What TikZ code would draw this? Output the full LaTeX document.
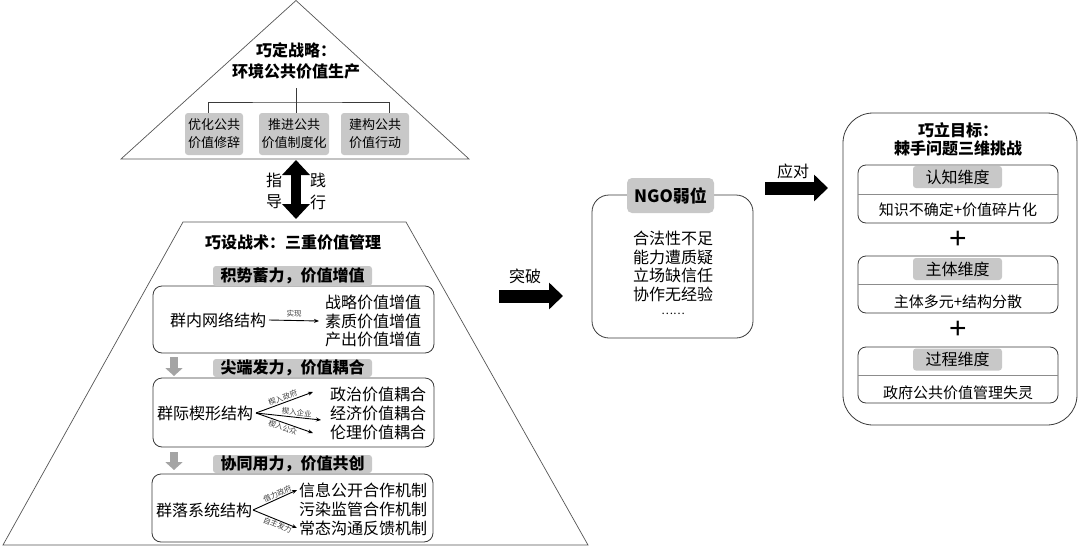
\documentclass[tikz,border=0pt]{standalone}
\usepackage{fontspec}
\setmainfont{Liberation Serif}
\newfontfamily\cjk{Noto Sans CJK SC}
\newfontfamily\plusfont{Liberation Sans}
\usetikzlibrary{arrows.meta,calc}
\definecolor{boxgray}{HTML}{C8C8C8}
\definecolor{arrowgray}{HTML}{A4A4A4}
\definecolor{linegray}{HTML}{3A3A3A}
\definecolor{shapeline}{HTML}{555555}
\tikzset{
  every node/.style={inner sep=0pt, outer sep=0pt},
  body/.style={font=\cjk\fontsize{16}{19}\selectfont, align=center},
  bodysm/.style={font=\cjk\fontsize{13}{18}\selectfont, align=center},
  ttl/.style={font=\cjk\bfseries\fontsize{16}{19}\selectfont, align=center},
  tiny/.style={font=\cjk\fontsize{7.5}{8}\selectfont, text=black!75},
  gbox/.style={fill=boxgray, rounded corners=3pt, align=center},
  wbox/.style={draw=linegray, rounded corners=9pt, line width=0.8pt},
  outline/.style={draw=shapeline, line width=0.7pt},
  blk/.style={line width=13pt, -{Triangle[length=14pt,width=26pt]}},
  garrow/.style={draw=arrowgray, line width=8pt, -{Triangle[length=8pt,width=17pt]}},
  thinarrow/.style={draw=black, line width=0.9pt, -{Stealth[length=5pt,width=4pt]}},
  plussign/.style={font=\plusfont\fontsize{30}{30}\selectfont},
}
\begin{document}
\begin{tikzpicture}[x=1pt,y=-1pt]
\useasboundingbox (0,0) rectangle (1080,549);
\fill[white] (0,0) rectangle (1080,549);

% ---------- top triangle ----------
\draw[outline] (121,159) -- (296,0.5) -- (469,159) -- cycle;
\node[ttl, font=\cjk\bfseries\fontsize{16}{21}\selectfont] (strat) at (296,60.5) {巧定战略：\\环境公共价值生产};
\node[gbox, bodysm, minimum width=58pt, minimum height=42pt] (t1) at (214,134) {优化公共\\价值修辞};
\node[gbox, bodysm, minimum width=70pt, minimum height=42pt] (t2) at (294,134) {推进公共\\价值制度化};
\node[gbox, bodysm, minimum width=68pt, minimum height=42pt] (t3) at (375,134) {建构公共\\价值行动};
\coordinate (hub) at (296,102);
\coordinate (hubtop) at (296,88);
\draw[linegray, line width=0.8pt] (hubtop) -- (hub);
\draw[linegray, line width=0.8pt] (t1.north -| 208,0) |- (hub) -| (t3.north -| 389,0);
\draw[linegray, line width=0.8pt] (hub) -- (t2.north -| hub);

% ---------- double arrow ----------
\coordinate (dA) at (296,160);
\coordinate (dB) at (296,219);
\draw[line width=10pt, {Triangle[length=15pt,width=27pt]}-{Triangle[length=15pt,width=27pt]}] (dA) -- (dB);
\node[body] (z1) at (274,180) {指};
\node[body] (z2) at (274,202) {导};
\node[body] (z3) at (318,180) {践};
\node[body] (z4) at (318,202) {行};

% ---------- trapezoid ----------
\draw[outline] (183,222) -- (406,222) -- (588,545) -- (3,545) -- cycle;
\node[ttl] (tac) at (293,242) {巧设战术：三重价值管理};

% section 1
\node[wbox, minimum width=281pt, minimum height=67pt] (B1) at (293.5,319.5) {};
\node[gbox, ttl, minimum width=159pt, minimum height=20pt] (H1) at (292.5,276) {积势蓄力，价值增值};
\node[body] (L1) at (218,320) {群内网络结构};
\node[body] (R1a) at (373,302) {战略价值增值};
\node[body] (R1b) at (373,321) {素质价值增值};
\node[body] (R1c) at (373,339.5) {产出价值增值};
\draw[thinarrow] ([xshift=3pt]L1.east) -- ([xshift=-6pt]R1b.west) node[midway, above=3pt, tiny] {实现};

% down arrow 1
\coordinate (g1a) at (174,357);
\coordinate (g1b) at (174,376);
\draw[garrow] (g1a) -- (g1b);

% section 2
\node[wbox, minimum width=281pt, minimum height=69pt] (B2) at (293.5,412.5) {};
\node[gbox, ttl, minimum width=159pt, minimum height=18pt] (H2) at (292.5,368) {尖端发力，价值耦合};
\node[body] (L2) at (205,413) {群际楔形结构};
\node[body] (R2a) at (378,394) {政治价值耦合};
\node[body] (R2b) at (378,413) {经济价值耦合};
\node[body] (R2c) at (378,432) {伦理价值耦合};
\coordinate (e2a) at (313,392);
\coordinate (e2b) at (321,420);
\coordinate (e2c) at (313,433);
\coordinate (s2) at ([xshift=3pt]L2.east);
\draw[thinarrow] (s2) -- (e2a) node[pos=0.5, sloped, above=1.5pt, tiny] {楔入政府};
\draw[thinarrow] (s2) -- (e2b) node[pos=0.62, sloped, above=1.2pt, tiny] {楔入企业};
\draw[thinarrow] (s2) -- (e2c) node[pos=0.5, sloped, below=1.5pt, tiny] {楔入公众};

% down arrow 2
\coordinate (g2a) at (174,452);
\coordinate (g2b) at (174,470);
\draw[garrow] (g2a) -- (g2b);

% section 3
\node[wbox, minimum width=281pt, minimum height=68pt] (B3) at (292.5,508) {};
\node[gbox, ttl, minimum width=159pt, minimum height=18pt] (H3) at (292.5,464) {协同用力，价值共创};
\node[body] (L3) at (204,510) {群落系统结构};
\node[body] (R3a) at (363,490) {信息公开合作机制};
\node[body] (R3b) at (363,509) {污染监管合作机制};
\node[body] (R3c) at (363,528) {常态沟通反馈机制};
\coordinate (s3) at ([xshift=1pt]L3.east);
\draw[thinarrow] (s3) -- ([xshift=-2pt]R3a.west) node[pos=0.6, sloped, above=1.2pt, tiny] {借力政府};
\draw[thinarrow] (s3) -- ([xshift=-2pt]R3c.west) node[pos=0.6, sloped, below=1.2pt, tiny] {自主发力};

% ---------- middle: breakthrough arrow ----------
\coordinate (bk1) at (499,296);
\coordinate (bk2) at (563,296);
\draw[blk] (bk1) -- (bk2);
\node[body] (bklab) at (525,276) {突破};

% NGO box
\node[draw=linegray, line width=0.8pt, rounded corners=17pt, minimum width=161pt, minimum height=143pt] (NGO) at (672.5,266.5) {};
\node[gbox, rounded corners=5pt, font=\cjk\bfseries\fontsize{17}{19}\selectfont, minimum width=87pt, minimum height=35pt] (NGOh) at (670.5,195.5) {NGO弱位};
\node[body, font=\cjk\fontsize{16}{18.5}\selectfont] (NGOt) at (673,266.5) {合法性不足\\能力遭质疑\\立场缺信任\\协作无经验};
\node[font=\cjk\fontsize{11}{12}\selectfont] (NGOd) at (673,314) {……};

% respond arrow
\coordinate (rs1) at (765,188);
\coordinate (rs2) at (828,188);
\draw[blk] (rs1) -- (rs2);
\node[body] (rslab) at (793,171) {应对};

% ---------- right box ----------
\node[draw=linegray, line width=0.8pt, rounded corners=30pt, minimum width=234pt, minimum height=312pt] (RB) at (960,269) {};
\node[ttl, font=\cjk\bfseries\fontsize{16}{18}\selectfont] (RBt) at (958,139) {巧立目标：\\棘手问题三维挑战};

\node[wbox, rounded corners=8pt, minimum width=200pt, minimum height=58pt] (S1) at (958,194) {};
\draw[black!45, line width=0.6pt] (S1.west) -- (S1.east);
\node[gbox, body, minimum width=89pt, minimum height=22pt] (S1h) at (957.5,177) {认知维度};
\node[body, font=\cjk\fontsize{15}{18}\selectfont] (S1t) at (958,210) {知识不确定+价值碎片化};

\node[plussign] (P1) at (958,240) {+};

\node[wbox, rounded corners=8pt, minimum width=200pt, minimum height=57pt] (S2) at (958,284.5) {};
\draw[black!45, line width=0.6pt] (S2.west) -- (S2.east);
\node[gbox, body, minimum width=89pt, minimum height=22pt] (S2h) at (957.5,269) {主体维度};
\node[body, font=\cjk\fontsize{15}{18}\selectfont] (S2t) at (958,302) {主体多元+结构分散};

\node[plussign] (P2) at (958,330) {+};

\node[wbox, rounded corners=8pt, minimum width=200pt, minimum height=56pt] (S3) at (958,375) {};
\draw[black!45, line width=0.6pt] (S3.west) -- (S3.east);
\node[gbox, body, minimum width=89pt, minimum height=22pt] (S3h) at (957.5,359.5) {过程维度};
\node[body, font=\cjk\fontsize{15}{18}\selectfont] (S3t) at (958,393) {政府公共价值管理失灵};
\end{tikzpicture}
\end{document}
